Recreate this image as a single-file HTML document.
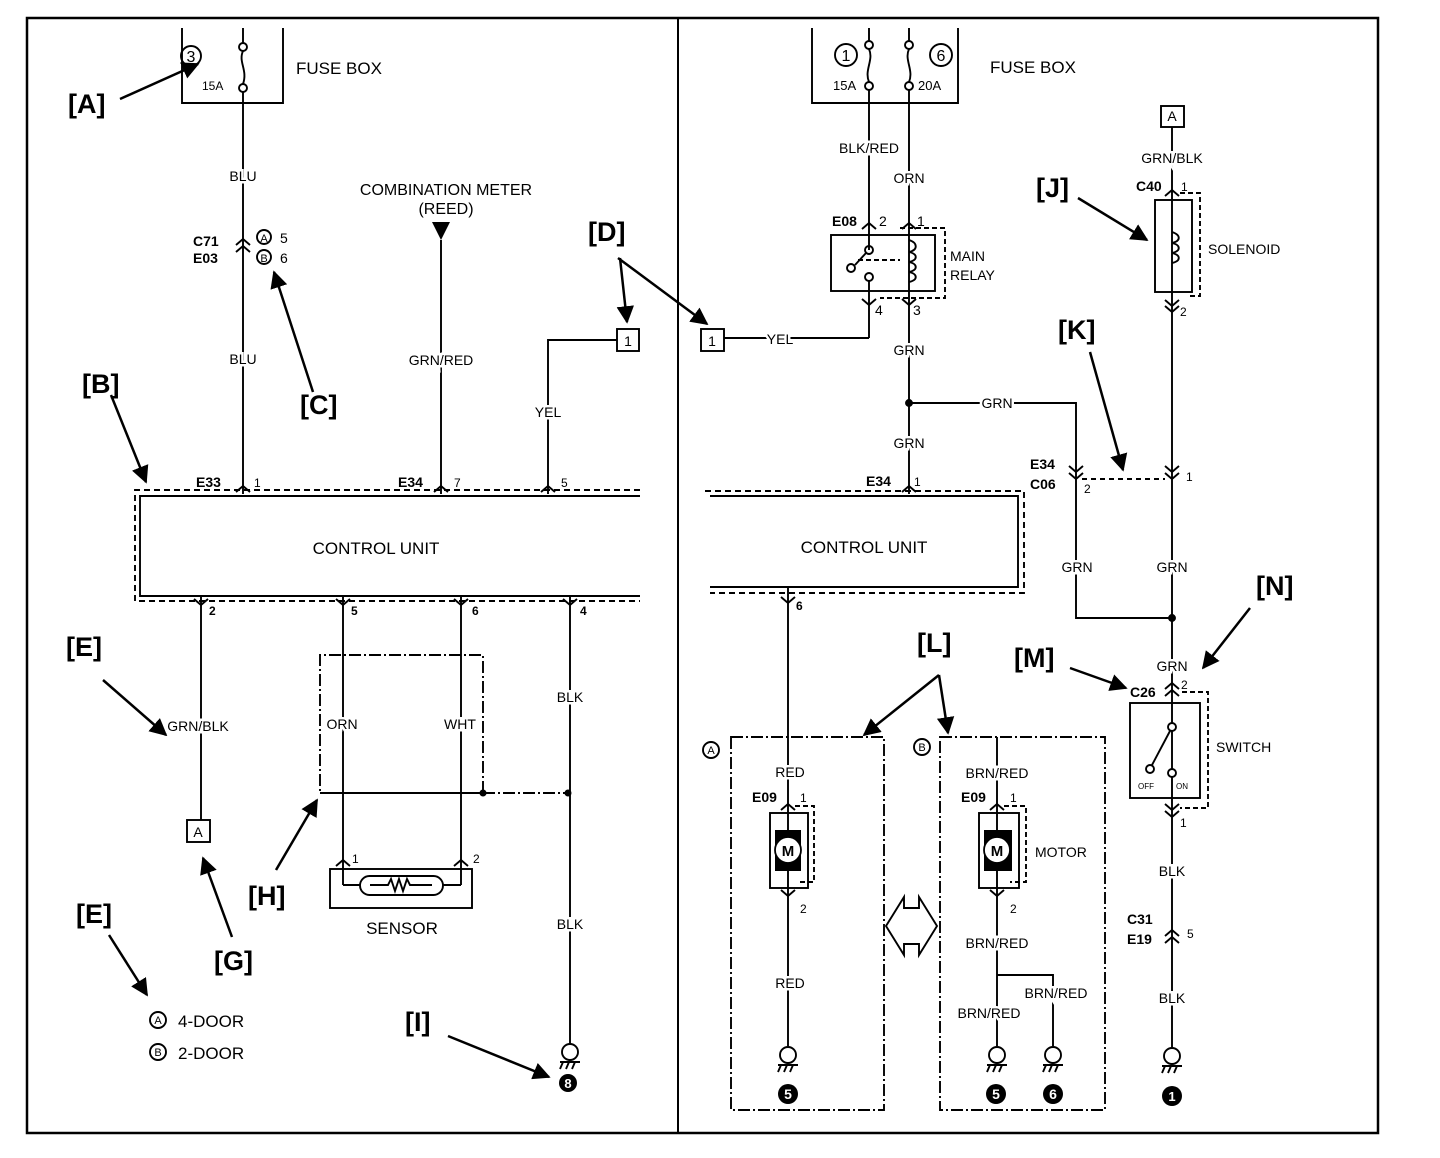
<!DOCTYPE html>
<html><head><meta charset="utf-8"><style>
html,body{margin:0;padding:0;background:#fff;}
svg{display:block;}
text{font-family:"Liberation Sans",sans-serif;fill:#000;}
.l{font-size:14px;}
.lb{font-size:14px;paint-order:stroke;stroke:#fff;stroke-width:5px;}
.b{font-size:14px;font-weight:bold;}
.big{font-size:27px;font-weight:bold;}
.t{font-size:17px;}
.s{font-size:9px;}
</style></head><body>
<svg width="1440" height="1158" viewBox="0 0 1440 1158" xmlns="http://www.w3.org/2000/svg">
<defs>
<marker id="ah" viewBox="0 0 10 10" refX="9" refY="5" markerWidth="7" markerHeight="7" orient="auto"><path d="M0,0 L10,5 L0,10 z" fill="#000"/></marker>
</defs>
<g fill="none" stroke="#000">
<rect x="27" y="18" width="1351" height="1115" stroke-width="2.5"/>
<line x1="678" y1="18" x2="678" y2="1133" stroke-width="2"/>

<g stroke-width="1.9">
<path d="M182,28 V103 H283 V28"/>
<circle cx="191" cy="56" r="10"/>
<circle cx="243" cy="47" r="4"/><circle cx="243" cy="88" r="4"/>
<path d="M243,51 C238,62 248,70 243,84"/>
<line x1="243" y1="28" x2="243" y2="43"/>
<line x1="243" y1="92" x2="243" y2="494"/>
<path d="M236,245 L243,239 L250,245 M236,252 L243,246 L250,252"/>
<circle cx="264" cy="237" r="7"/><circle cx="264" cy="257" r="7"/>
<line x1="441" y1="240" x2="441" y2="494"/>
<rect x="617" y="329" width="22" height="22"/>
<path d="M617,340 H548 V494"/>
<path d="M640,496 H140 V596 H640"/>
<path d="M640,490 H135 V601 H640" stroke-dasharray="6,4"/>
<path d="M236,492 L243,486 L250,492 M434,492 L441,486 L448,492 M541,492 L548,486 L555,492"/>
<path d="M194,599 L201,605 L208,599 M336,599 L343,605 L350,599 M454,599 L461,605 L468,599 M563,599 L570,605 L577,599"/>
<line x1="201" y1="596" x2="201" y2="820"/>
<rect x="187" y="820" width="23" height="22"/>
<line x1="343" y1="596" x2="343" y2="885"/>
<line x1="461" y1="596" x2="461" y2="885"/>
<line x1="570" y1="596" x2="570" y2="1044"/>
<path d="M483,793 V655 H320 V793" stroke-dasharray="12,3,2,3"/>
<line x1="320" y1="793" x2="483" y2="793"/>
<line x1="483" y1="793" x2="570" y2="793" stroke-dasharray="12,3,2,3"/>
<rect x="330" y="869" width="142" height="39"/>
<path d="M336,866 L343,860 L350,866 M454,866 L461,860 L468,866"/>
<path d="M343,885 H360 M443,885 H461"/>
<rect x="360" y="876" width="83" height="19" rx="9.5"/>
<path d="M370,885 H388 L391,879 L395,891 L399,879 L403,891 L407,879 L410,885 H432"/>
<circle cx="570" cy="1052" r="8"/>
<path d="M560,1062 H580 M563,1062 L560,1069 M569,1062 L566,1069 M575,1062 L572,1069"/>

<path d="M812,28 V103 H958 V28"/>
<circle cx="846" cy="55" r="11"/><circle cx="941" cy="55" r="11"/>
<circle cx="869" cy="45" r="4"/><circle cx="869" cy="86" r="4"/>
<circle cx="909" cy="45" r="4"/><circle cx="909" cy="86" r="4"/>
<path d="M869,49 C874,60 864,70 869,82 M909,49 C904,60 914,70 909,82"/>
<path d="M869,28 V41 M909,28 V41"/>
<line x1="869" y1="90" x2="869" y2="250"/>
<line x1="909" y1="90" x2="909" y2="494"/>
<rect x="831" y="235" width="104" height="56"/>
<path d="M900,228 H945 V298 H880" stroke-dasharray="5,3"/>
<path d="M862,229 L869,223 L876,229 M902,229 L909,223 L916,229"/>
<path d="M862,299 L869,305 L876,299 M902,299 L909,305 L916,299"/>
<circle cx="869" cy="250" r="4"/><circle cx="851" cy="268" r="4"/><circle cx="869" cy="277" r="4"/>
<path d="M855,265 L866,253"/>
<path d="M858,260 H900" stroke-dasharray="5,3"/>
<path d="M909,240 C918,243 918,250 909,252 C918,254 918,260 909,262 C918,264 918,270 909,272 C918,274 918,280 909,282"/>
<line x1="869" y1="281" x2="869" y2="338"/>
<path d="M869,338 H724"/>
<rect x="701" y="329" width="23" height="22"/>
<circle cx="909" cy="403" r="3" fill="#000"/>
<path d="M909,403 H1076 V618 H1172"/>
<circle cx="1172" cy="618" r="3" fill="#000"/>
<path d="M710,496 H1018 V587 H710"/>
<path d="M705,491 H1024 V593 H710" stroke-dasharray="6,4"/>
<path d="M902,492 L909,486 L916,492"/>
<path d="M781,597 L788,603 L795,597"/>
<line x1="788" y1="587" x2="788" y2="1046"/>
<rect x="1161" y="106" width="23" height="21"/>
<line x1="1172" y1="127" x2="1172" y2="1048"/>
<path d="M1165,196 L1172,190 L1179,196"/>
<rect x="1155" y="200" width="37" height="92"/>
<path d="M1180,193 H1200 V296 H1190" stroke-dasharray="5,3"/>
<path d="M1172,232 C1181,235 1181,241 1172,243 C1181,245 1181,251 1172,253 C1181,255 1181,261 1172,263"/>
<path d="M1165,300 L1172,306 L1179,300 M1165,306 L1172,312 L1179,306"/>
<path d="M1069,466 L1076,472 L1083,466 M1069,473 L1076,479 L1083,473"/>
<path d="M1165,466 L1172,472 L1179,466 M1165,473 L1172,479 L1179,473"/>
<line x1="1082" y1="479" x2="1165" y2="479" stroke-dasharray="5,4"/>
<path d="M1165,689 L1172,683 L1179,689 M1165,696 L1172,690 L1179,696"/>
<rect x="1130" y="703" width="70" height="95"/>
<path d="M1182,692 H1208 V808 H1180" stroke-dasharray="5,3"/>
<circle cx="1172" cy="727" r="4" fill="#fff"/>
<circle cx="1150" cy="769" r="4" fill="#fff"/>
<circle cx="1172" cy="773" r="4" fill="#fff"/>
<line x1="1170" y1="731" x2="1152" y2="765"/>
<path d="M1165,804 L1172,810 L1179,804 M1165,811 L1172,817 L1179,811"/>
<path d="M1165,936 L1172,930 L1179,936 M1165,943 L1172,937 L1179,943"/>
<circle cx="1172" cy="1056" r="8"/>
<path d="M1162,1066 H1182 M1165,1066 L1162,1073 M1171,1066 L1168,1073 M1177,1066 L1174,1073"/>
<path d="M731,737 H884 V1110 H731 Z" stroke-dasharray="12,3,2,3"/>
<rect x="770" y="813" width="38" height="75"/>
<path d="M795,806 H814 V882 H800" stroke-dasharray="5,3"/>
<path d="M781,810 L788,804 L795,810 M781,890 L788,896 L795,890"/>
<circle cx="788" cy="1055" r="8"/>
<path d="M778,1065 H798 M781,1065 L778,1072 M787,1065 L784,1072 M793,1065 L790,1072"/>
<path d="M886,926 L904,897 L904,908 L919,908 L919,897 L937,926 L919,955 L919,944 L904,944 L904,955 Z"/>
<path d="M940,737 H1105 V1110 H940 Z" stroke-dasharray="12,3,2,3"/>
<line x1="997" y1="737" x2="997" y2="1046"/>
<rect x="979" y="813" width="40" height="75"/>
<path d="M1004,806 H1026 V882 H1010" stroke-dasharray="5,3"/>
<path d="M990,810 L997,804 L1004,810 M990,890 L997,896 L1004,890"/>
<path d="M997,975 H1053 V1046"/>
<circle cx="997" cy="1055" r="8"/>
<path d="M987,1065 H1007 M990,1065 L987,1072 M996,1065 L993,1072 M1002,1065 L999,1072"/>
<circle cx="1053" cy="1055" r="8"/>
<path d="M1043,1065 H1063 M1046,1065 L1043,1072 M1052,1065 L1049,1072 M1058,1065 L1055,1072"/>
<circle cx="711" cy="750" r="8"/><circle cx="922" cy="747" r="8"/>
<circle cx="158" cy="1020" r="8"/><circle cx="158" cy="1052" r="8"/>
</g>
<path d="M432,222 H450 L441,240 Z" fill="#000" stroke="none"/>
<g fill="#000" stroke="none">
<rect x="775" y="830" width="26" height="41"/>
<rect x="984" y="830" width="28" height="41"/>
<circle cx="568" cy="1083" r="9"/>
<circle cx="788" cy="1094" r="10"/>
<circle cx="996" cy="1094" r="10"/>
<circle cx="1053" cy="1094" r="10"/>
<circle cx="1172" cy="1096" r="10"/>
<circle cx="483" cy="793" r="3.5"/><circle cx="568" cy="793" r="3.5"/>
</g>
<circle cx="788" cy="850" r="13" fill="#fff" stroke="#000" stroke-width="1.8"/>
<circle cx="997" cy="850" r="13" fill="#fff" stroke="#000" stroke-width="1.8"/>
<g stroke-width="2.5" marker-end="url(#ah)">
<line x1="120" y1="99" x2="198" y2="64"/>
<line x1="313" y1="392" x2="274" y2="272"/>
<line x1="620" y1="258" x2="627" y2="322"/>
<line x1="618" y1="258" x2="707" y2="324"/>
<line x1="111" y1="395" x2="146" y2="482"/>
<line x1="103" y1="680" x2="166" y2="735"/>
<line x1="276" y1="870" x2="317" y2="800"/>
<line x1="232" y1="937" x2="203" y2="858"/>
<line x1="109" y1="935" x2="147" y2="995"/>
<line x1="448" y1="1036" x2="549" y2="1077"/>
<line x1="1078" y1="198" x2="1147" y2="240"/>
<line x1="1090" y1="352" x2="1123" y2="470"/>
<line x1="939" y1="675" x2="864" y2="735"/>
<line x1="939" y1="675" x2="948" y2="733"/>
<line x1="1070" y1="668" x2="1126" y2="688"/>
<line x1="1250" y1="608" x2="1203" y2="668"/>
</g>
</g>
<text x="191" y="62" style="font-size:16px" text-anchor="middle">3</text>
<text x="202" y="90" style="font-size:12px">15A</text>
<text x="296" y="74" class="t">FUSE BOX</text>
<text x="68" y="113" class="big">[A]</text>
<text x="243" y="181" class="lb" text-anchor="middle">BLU</text>
<text x="243" y="364" class="lb" text-anchor="middle">BLU</text>
<text x="193" y="246" class="b">C71</text>
<text x="193" y="263" class="b">E03</text>
<text x="264" y="242" style="font-size:11px" text-anchor="middle">A</text>
<text x="264" y="262" style="font-size:11px" text-anchor="middle">B</text>
<text x="280" y="243" class="l">5</text>
<text x="280" y="263" class="l">6</text>
<text x="300" y="414" class="big">[C]</text>
<text x="446" y="195" class="l" text-anchor="middle" style="font-size:16px">COMBINATION METER</text>
<text x="446" y="214" class="l" text-anchor="middle" style="font-size:16px">(REED)</text>
<text x="441" y="365" class="lb" text-anchor="middle">GRN/RED</text>
<text x="588" y="241" class="big">[D]</text>
<text x="628" y="346" class="l" text-anchor="middle">1</text>
<text x="548" y="417" class="lb" text-anchor="middle">YEL</text>
<text x="82" y="393" class="big">[B]</text>
<text x="196" y="487" class="b">E33</text>
<text x="254" y="487" style="font-size:12px">1</text>
<text x="398" y="487" class="b">E34</text>
<text x="454" y="487" style="font-size:12px">7</text>
<text x="561" y="487" style="font-size:12px">5</text>
<text x="376" y="554" class="t" text-anchor="middle">CONTROL UNIT</text>
<text x="209" y="615" class="b" style="font-size:12px">2</text>
<text x="351" y="615" class="b" style="font-size:12px">5</text>
<text x="472" y="615" class="b" style="font-size:12px">6</text>
<text x="580" y="615" class="b" style="font-size:12px">4</text>
<text x="66" y="656" class="big">[E]</text>
<text x="198" y="731" class="lb" text-anchor="middle">GRN/BLK</text>
<text x="342" y="729" class="lb" text-anchor="middle">ORN</text>
<text x="460" y="729" class="lb" text-anchor="middle">WHT</text>
<text x="570" y="702" class="lb" text-anchor="middle">BLK</text>
<text x="570" y="929" class="lb" text-anchor="middle">BLK</text>
<text x="198" y="837" class="l" text-anchor="middle">A</text>
<text x="352" y="863" style="font-size:12px">1</text>
<text x="473" y="863" style="font-size:12px">2</text>
<text x="402" y="934" class="t" text-anchor="middle">SENSOR</text>
<text x="248" y="905" class="big">[H]</text>
<text x="214" y="970" class="big">[G]</text>
<text x="76" y="923" class="big">[E]</text>
<text x="158" y="1024" style="font-size:11px" text-anchor="middle">A</text>
<text x="158" y="1056" style="font-size:11px" text-anchor="middle">B</text>
<text x="178" y="1027" class="t">4-DOOR</text>
<text x="178" y="1059" class="t">2-DOOR</text>
<text x="405" y="1031" class="big">[I]</text>
<text x="568" y="1088" style="font-size:13px;font-weight:bold;fill:#fff" text-anchor="middle">8</text>

<text x="846" y="61" style="font-size:16px" text-anchor="middle">1</text>
<text x="941" y="61" style="font-size:16px" text-anchor="middle">6</text>
<text x="833" y="90" style="font-size:13px">15A</text>
<text x="918" y="90" style="font-size:13px">20A</text>
<text x="990" y="73" class="t">FUSE BOX</text>
<text x="869" y="153" class="lb" text-anchor="middle">BLK/RED</text>
<text x="909" y="183" class="lb" text-anchor="middle">ORN</text>
<text x="832" y="226" class="b">E08</text>
<text x="879" y="226" class="l">2</text>
<text x="917" y="226" class="l">1</text>
<text x="950" y="261" class="l">MAIN</text>
<text x="950" y="280" class="l">RELAY</text>
<text x="875" y="315" class="l">4</text>
<text x="913" y="315" class="l">3</text>
<text x="712" y="346" class="l" text-anchor="middle">1</text>
<text x="780" y="344" class="lb" text-anchor="middle">YEL</text>
<text x="909" y="355" class="lb" text-anchor="middle">GRN</text>
<text x="997" y="408" class="lb" text-anchor="middle">GRN</text>
<text x="909" y="448" class="lb" text-anchor="middle">GRN</text>
<text x="866" y="486" class="b">E34</text>
<text x="914" y="486" style="font-size:12px">1</text>
<text x="864" y="553" class="t" text-anchor="middle">CONTROL UNIT</text>
<text x="796" y="610" class="b" style="font-size:12px">6</text>
<text x="1172" y="121" class="l" text-anchor="middle">A</text>
<text x="1172" y="163" class="lb" text-anchor="middle">GRN/BLK</text>
<text x="1136" y="191" class="b">C40</text>
<text x="1181" y="191" style="font-size:12px">1</text>
<text x="1208" y="254" class="l">SOLENOID</text>
<text x="1180" y="316" style="font-size:12px">2</text>
<text x="1036" y="197" class="big">[J]</text>
<text x="1058" y="339" class="big">[K]</text>
<text x="1030" y="469" class="b">E34</text>
<text x="1030" y="489" class="b">C06</text>
<text x="1084" y="493" style="font-size:12px">2</text>
<text x="1186" y="481" style="font-size:12px">1</text>
<text x="1077" y="572" class="lb" text-anchor="middle">GRN</text>
<text x="1172" y="572" class="lb" text-anchor="middle">GRN</text>
<text x="1256" y="595" class="big">[N]</text>
<text x="1014" y="667" class="big">[M]</text>
<text x="917" y="652" class="big">[L]</text>
<text x="1172" y="671" class="lb" text-anchor="middle">GRN</text>
<text x="1130" y="697" class="b">C26</text>
<text x="1181" y="689" style="font-size:12px">2</text>
<text x="1216" y="752" class="l">SWITCH</text>
<text x="1138" y="789" style="font-size:8px">OFF</text>
<text x="1176" y="789" style="font-size:8px">ON</text>
<text x="1180" y="827" style="font-size:12px">1</text>
<text x="1172" y="876" class="lb" text-anchor="middle">BLK</text>
<text x="1127" y="924" class="b">C31</text>
<text x="1127" y="944" class="b">E19</text>
<text x="1187" y="938" style="font-size:12px">5</text>
<text x="1172" y="1003" class="lb" text-anchor="middle">BLK</text>
<text x="1172" y="1101" style="font-size:13px;font-weight:bold;fill:#fff" text-anchor="middle">1</text>
<text x="711" y="754" style="font-size:11px" text-anchor="middle">A</text>
<text x="922" y="751" style="font-size:11px" text-anchor="middle">B</text>
<text x="790" y="777" class="lb" text-anchor="middle">RED</text>
<text x="752" y="802" class="b">E09</text>
<text x="800" y="802" style="font-size:12px">1</text>
<text x="788" y="856" class="b" text-anchor="middle" style="font-size:15px">M</text>
<text x="800" y="913" style="font-size:12px">2</text>
<text x="790" y="988" class="lb" text-anchor="middle">RED</text>
<text x="788" y="1099" style="font-size:14px;font-weight:bold;fill:#fff" text-anchor="middle">5</text>
<text x="997" y="778" class="lb" text-anchor="middle">BRN/RED</text>
<text x="961" y="802" class="b">E09</text>
<text x="1010" y="802" style="font-size:12px">1</text>
<text x="997" y="856" class="b" text-anchor="middle" style="font-size:15px">M</text>
<text x="1035" y="857" class="l">MOTOR</text>
<text x="1010" y="913" style="font-size:12px">2</text>
<text x="997" y="948" class="lb" text-anchor="middle">BRN/RED</text>
<text x="1056" y="998" class="lb" text-anchor="middle">BRN/RED</text>
<text x="989" y="1018" class="lb" text-anchor="middle">BRN/RED</text>
<text x="996" y="1099" style="font-size:14px;font-weight:bold;fill:#fff" text-anchor="middle">5</text>
<text x="1053" y="1099" style="font-size:14px;font-weight:bold;fill:#fff" text-anchor="middle">6</text>
</svg>
</body></html>
